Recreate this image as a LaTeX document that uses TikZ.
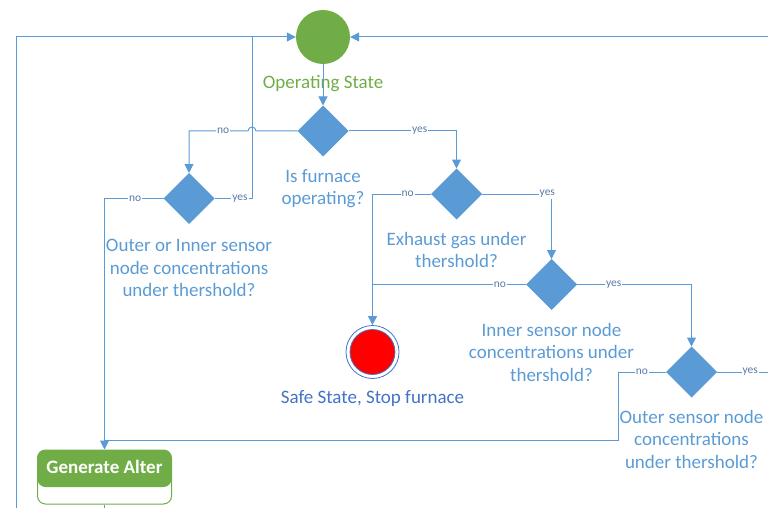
\documentclass[tikz,border=0pt]{standalone}
\usepackage{fontspec}
\setmainfont{Carlito}
\usepackage{xcolor}
\usetikzlibrary{shapes.geometric,arrows.meta,positioning,calc}
\definecolor{lineblue}{HTML}{5B9BD5}
\definecolor{darkblue}{HTML}{4472C4}
\definecolor{stgreen}{HTML}{70AD47}
\definecolor{tagblue}{HTML}{5A7BA6}

\begin{document}
\begin{tikzpicture}[
  x=1pt, y=-1pt,
  font=\fontsize{19}{22.5}\selectfont,
  flow/.style ={draw=lineblue,line width=1pt},
  arr/.style  ={flow,-{Triangle[length=9pt,width=9pt]}},
  dec/.style  ={diamond,fill=lineblue,inner sep=0pt,outer sep=0pt,
                minimum width=51pt,minimum height=51pt},
  lbl/.style  ={text=lineblue,align=center,inner sep=0pt},
  tag/.style  ={fill=white,text=tagblue,inner sep=1pt,
                font=\fontsize{11.5}{12}\selectfont},
  alertbox/.style={draw=stgreen,line width=1pt,rounded corners=8pt,
                minimum width=134pt,minimum height=54pt,inner sep=0pt,
                path picture={\fill[stgreen] (path picture bounding box.north west)
                  rectangle ([yshift=17pt]path picture bounding box.south east);}}]

\useasboundingbox (0,0) rectangle (768,508);

% ---------- states ----------
\node[circle,fill=stgreen,minimum size=54pt,inner sep=0pt] (op) at (323,37) {};
\node[lbl,text=stgreen,below=11pt of op] (oplbl) {Operating State};

\node[circle,draw=darkblue,line width=0.8pt,minimum size=53pt,inner sep=0pt] (safe) at (372.5,352) {};
\node[circle,fill=red,draw=darkblue,line width=0.8pt,minimum size=45pt,inner sep=0pt] (safedot) at (safe) {};
\node[lbl,text=darkblue,below=11.5pt of safe] (safelbl) {Safe State, Stop furnace};

\node[alertbox] (alert) at (104.5,477) {};
\node[text=white,inner sep=0pt,font=\fontsize{19}{22.5}\selectfont\bfseries]
  (alertlbl) at ([yshift=-17pt]alert.north) {Generate Alter};

% ---------- decisions ----------
\node[dec] (q1) at (323,131) {};
\node[lbl,below=12.5pt of q1] (q1lbl) {Is furnace\\operating?};

\node[dec] (q2) at (189,198.5) {};
\node[lbl,below=15pt of q2] (q2lbl) {Outer or Inner sensor\\node concentrations\\under thershold?};

\node[dec] (q3) at (456.5,194) {};
\node[lbl,below=12.5pt of q3] (q3lbl) {Exhaust gas under\\thershold?};

\node[dec] (q4) at (551.5,284.5) {};
\node[lbl,below=13pt of q4] (q4lbl) {Inner sensor node\\concentrations under\\thershold?};

\node[dec] (q5) at (691.5,372) {};
\node[lbl,below=12.5pt of q5] (q5lbl) {Outer sensor node\\concentrations\\under thershold?};

% ---------- loose ends ----------
\coordinate (lowL)  at (16,508);
\coordinate (topR)  at (768,37);
\coordinate (join)  at (252,37);
\coordinate (hopR)  at ($(join |- q1.west)+(4,0)$);
\coordinate (q5out) at (768,372);
\coordinate (q5turn) at ($(q5.west)+(-48,0)$);
\coordinate (alertin) at ($(alert.north)+(0,-9)$);
\coordinate (alertout) at (alert.south |- lowL);

% ---------- connectors ----------
\draw[arr] (op) -- (q1);
\draw[arr] (lowL) |- (op);
\draw[arr] (topR) -- (op);

\draw[flow] (q2.east) -| node[tag,pos=0.34]{yes} (join);
\draw[arr] (q1.west) -- (hopR) arc[start angle=0,end angle=180,radius=4pt]
  -| node[tag,pos=0.21]{no} (q2.north);
\draw[arr] (q1.east) -| node[tag,pos=0.33]{yes} (q3.north);

\draw[arr] (q2.west) -| node[tag,pos=0.24]{no} (alert.north);
\draw[flow] (alert) -- (alertout);

\draw[arr] (q3.west) -| node[tag,pos=0.2]{no} (safe.north);
\draw[arr] (q3.east) -| node[tag,pos=0.47]{yes} (q4.north);

\draw[flow] (q4.west) -- node[tag,pos=0.17]{no} (q4.west -| safe.north);
\draw[arr] (q4.east) -| node[tag,pos=0.16]{yes} (q5.north);

\draw[flow] (q5.west) -- node[tag]{no} (q5turn) |- (alertin);
\draw[flow] (q5.east) -- node[tag,pos=0.65]{yes} (q5out);

\end{tikzpicture}
\end{document}
